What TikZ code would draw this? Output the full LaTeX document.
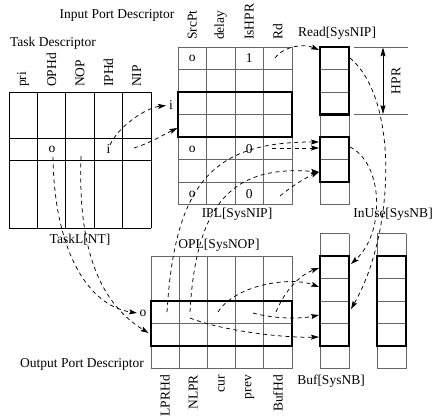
\documentclass[tikz,border=0pt]{standalone}
\usepackage{fontspec}
\setmainfont{Liberation Serif}
\usetikzlibrary{arrows.meta}
\begin{document}
\begin{tikzpicture}[x=1pt,y=-1pt,
  every node/.style={font=\fontsize{13.5}{16}\selectfont, inner sep=0pt},
  thingrid/.style={line width=0.8pt, draw=black!60},
  taskgrid/.style={line width=0.8pt, draw=black},
  heavy/.style={line width=2.8pt, draw=black},
  ptr/.style={dash pattern=on 4pt off 3.5pt, line width=0.75pt,
    -{Stealth[length=8pt,width=5pt,inset=1.5pt]}},
  dimarrow/.style={line width=0.8pt,
    {Stealth[length=9pt,width=5pt,inset=1.5pt]}-{Stealth[length=9pt,width=5pt,inset=1.5pt]}},
  colhead/.style={rotate=90, anchor=west},
  colfoot/.style={rotate=90, anchor=east}]
\useasboundingbox (0,0) rectangle (433,417);

% ---------- Task descriptor table ----------
\foreach \x in {9,37.4,65.8,94.2,122.6,151} \draw[taskgrid] (\x,92) -- (\x,228);
\foreach \y in {92,138,160,228} \draw[taskgrid] (9,\y) -- (151,\y);
\node (tdtitle) at (53,43) {Task Descriptor};
\node[colhead] (hpri)  at (23.2,87) {pri};
\node[colhead] (hophd) at (51.6,87) {OPHd};
\node[colhead] (hnop)  at (80,87)   {NOP};
\node[colhead] (hiphd) at (108.4,87) {IPHd};
\node[colhead] (hnip)  at (136.8,87) {NIP};
\node (to) at (52,149) {o};
\node (ti) at (108.4,149) {i};
\node (taskl) at (80,240) {TaskL[NT]};

% ---------- Input port list ----------
\foreach \k in {0,...,4} \draw[thingrid] (178+28.5*\k,47) -- (178+28.5*\k,204.5);
\foreach \k in {0,...,7} \draw[thingrid] (178,47+22.5*\k) -- (292,47+22.5*\k);
\draw[heavy] (178,92) rectangle (292,137);
\node (iptitle) at (117,15) {Input Port Descriptor};
\node[colhead] (hsrc) at (192.25,40) {SrcPt};
\node[colhead] (hdel) at (220.75,40) {delay};
\node[colhead] (hhpr) at (249.25,40) {IsHPR};
\node[colhead] (hrd)  at (277.75,40) {Rd};
\node (ia) at (192.25,58.5) {o};
\node (ib) at (249.25,58.5) {1};
\node (ic) at (192.25,149) {o};
\node (id) at (249.25,149) {0};
\node (ie) at (192.25,194) {o};
\node (if) at (249.25,194) {0};
\node (ilab) at (171,105) {i};
\node (ipl) at (237,214) {IPL[SysNIP]};

% ---------- Read array ----------
\foreach \k in {0,...,7} \draw[thingrid] (320,47+22.5*\k) -- (349,47+22.5*\k);
\draw[thingrid] (320,47) -- (320,204.5) (349,47) -- (349,204.5);
\draw[heavy] (320,47) rectangle (349,114.5);
\draw[heavy] (320,137) rectangle (349,182);
\node (read) at (337,33) {Read[SysNIP]};

% HPR dimension
\draw[thingrid] (354,47) -- (408,47) (354,114.5) -- (408,114.5);
\coordinate (hprtop) at (383,47.4);
\coordinate (hprbot) at (383,114.1);
\draw[dimarrow] (hprtop) -- (hprbot);
\node[rotate=90] (hpr) at (396,81) {HPR};

% ---------- Buf and InUse arrays ----------
\foreach \xl in {320,377} {
  \foreach \k in {0,...,6} \draw[thingrid] (\xl,233.5+22.5*\k) -- (\xl+29,233.5+22.5*\k);
  \draw[thingrid] (\xl,233.5) -- (\xl,368.5) (\xl+29,233.5) -- (\xl+29,368.5);
  \draw[heavy] (\xl,256) rectangle (\xl+29,346);
}
\node (inuse) at (393,214) {InUse[SysNB]};
\node (buf) at (331,381) {Buf[SysNB]};

% ---------- Output port list ----------
\foreach \k in {0,...,5} \draw[thingrid] (151+28.2*\k,256) -- (151+28.2*\k,368.5);
\foreach \y in {256,301,323.5,346,368.5} \draw[thingrid] (151,\y) -- (292,\y);
\draw[heavy] (151,301) rectangle (292,346);
\node (opl) at (219,245) {OPL[SysNOP]};
\node (optitle) at (82,364) {Output Port Descriptor};
\node[colfoot] (hlpr) at (165.1,375) {LPRHd};
\node[colfoot] (hnl)  at (193.3,375) {NLPR};
\node[colfoot] (hcur) at (221.5,375) {cur};
\node[colfoot] (hprev) at (249.7,375) {prev};
\node[colfoot] (hbuf) at (277.9,375) {BufHd};
\node (olab) at (143,313) {o};

% ---------- pointer end points ----------
\coordinate (s1) at (110,145);   \coordinate (e1) at (166,105.5);
\coordinate (s2) at (134,148);   \coordinate (e2) at (177.5,128);
\coordinate (s3) at (53,157);    \coordinate (e3) at (137,313);
\coordinate (s4) at (81,156);    \coordinate (e4) at (148.5,333);
\coordinate (s5) at (275,58);    \coordinate (e5) at (319,50);
\coordinate (s6) at (272,148);   \coordinate (e6) at (319,148);
\coordinate (s7) at (167,312);   \coordinate (e7) at (319,142);
\coordinate (s8) at (190,312);   \coordinate (e8) at (319,172);
\coordinate (s9) at (280,196);
\coordinate (s10) at (350,58);   \coordinate (e10) at (351,309);
\coordinate (s11) at (350,147);  \coordinate (e11) at (351,264);
\coordinate (s12) at (276,312);  \coordinate (e12) at (319,268);
\coordinate (s13) at (218,312);  \coordinate (e13) at (319,287);
\coordinate (s14) at (253,313);  \coordinate (e14) at (319,315);
\coordinate (s15) at (190,318);  \coordinate (e15) at (319,337);

% ---------- pointers ----------
\draw[ptr] (s1) .. controls (118,127) and (145,108) .. (e1);
\draw[ptr] (s2) .. controls (150,143) and (165,134) .. (e2);
\draw[ptr] (s3) .. controls (54,245) and (85,305) .. (e3);
\draw[ptr] (s4) .. controls (78,240) and (95,300) .. (e4);
\draw[ptr] (s5) .. controls (285,45) and (305,44) .. (e5);
\draw[ptr] (s6) -- (e6);
\draw[ptr] (s7) .. controls (175,180) and (215,142) .. (e7);
\draw[ptr] (s8) .. controls (196,200) and (235,165) .. (e8);
\draw[ptr] (s9) .. controls (292,186) and (305,178) .. (e8);
\draw[ptr] (s10) .. controls (400,100) and (394,235) .. (e10);
\draw[ptr] (s11) .. controls (383,163) and (386,232) .. (e11);
\draw[ptr] (s12) .. controls (285,290) and (300,275) .. (e12);
\draw[ptr] (s13) .. controls (235,285) and (290,276) .. (e13);
\draw[ptr] (s14) .. controls (275,319) and (300,319) .. (e14);
\draw[ptr] (s15) .. controls (220,330) and (280,338) .. (e15);
\end{tikzpicture}
\end{document}
